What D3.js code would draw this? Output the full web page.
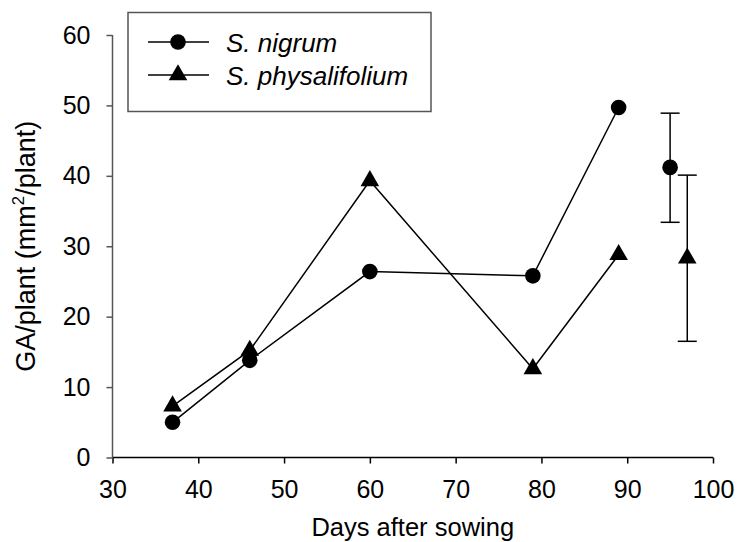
<!DOCTYPE html>
<html>
<head>
<meta charset="utf-8">
<script src="https://cdn.jsdelivr.net/npm/d3@7"></script>
<style>
  html, body { margin: 0; padding: 0; background: #fff; }
  svg { display: block; }
  text { font-family: "Liberation Sans", Arial, sans-serif; fill: #000; }
</style>
</head>
<body>
<svg id="chart" width="737" height="542"></svg>
<script>
// ---- data ----
const days = [37, 46, 60, 79, 89];
const nigrum = [5.0, 13.8, 26.4, 25.8, 49.7];
const physalifolium = [7.3, 15.2, 39.3, 12.6, 28.8];
// overall means with error bars
const meanDays = [95, 97];
const meanValues = [41.2, 28.3];
const meanLow = [33.4, 16.5];
const meanHigh = [48.9, 40.1];
const seriesNames = ["S. nigrum", "S. physalifolium"];
const xTicks = [30, 40, 50, 60, 70, 80, 90, 100];
const yTicks = [0, 10, 20, 30, 40, 50, 60];
const xTitle = "Days after sowing";

const svg = d3.select("#chart");
const x = d3.scaleLinear().domain([30, 100]).range([112.5, 713]);
const y = d3.scaleLinear().domain([0, 60]).range([457.5, 35]);

const FS = 25;

// axes
const xAxis = svg.append("g").attr("transform", `translate(0,${y(0)})`)
  .call(d3.axisBottom(x).tickValues(xTicks).tickSize(6).tickSizeOuter(0).tickPadding(17));
xAxis.select(".domain").attr("stroke", "#000").attr("stroke-width", 1.5)
  .attr("d", `M${x(30)},0H${x(100)}`);
xAxis.selectAll(".tick line").attr("stroke", "#000").attr("stroke-width", 1.5);
xAxis.selectAll(".tick text").attr("font-size", FS).attr("font-family", "Liberation Sans, Arial, sans-serif").attr("fill", "#000");

const yAxis = svg.append("g").attr("transform", `translate(${x(30)},0)`)
  .call(d3.axisLeft(y).tickValues(yTicks).tickSize(6).tickSizeOuter(0).tickPadding(16));
yAxis.select(".domain").attr("stroke", "#555").attr("stroke-width", 1.5)
  .attr("d", `M0,${y(0)}V${y(60)}`);
yAxis.selectAll(".tick line").attr("stroke", "#555").attr("stroke-width", 1.5);
yAxis.selectAll(".tick text").attr("font-size", FS).attr("font-family", "Liberation Sans, Arial, sans-serif").attr("fill", "#000");

// axis titles
svg.append("text").attr("x", (x(30) + x(100)) / 2).attr("y", 536)
  .attr("text-anchor", "middle").attr("font-size", 25.5).text(xTitle);

const YFS = 27;
const yt = svg.append("text")
  .attr("transform", `translate(35,${(y(0) + y(60)) / 2}) rotate(-90)`)
  .attr("text-anchor", "middle").attr("font-size", YFS);
yt.append("tspan").text("GA/plant (mm");
yt.append("tspan").attr("font-size", YFS * 0.62).attr("dy", -11).text("2");
yt.append("tspan").attr("dy", 11).text("/plant)");

// markers
const triangle = d3.symbol().type(d3.symbolTriangle).size(150);
function drawCircle(g, cx, cy) {
  g.append("circle").attr("cx", cx).attr("cy", cy).attr("r", 7.8).attr("fill", "#000");
}
function drawTriangle(g, cx, cy) {
  g.append("path").attr("d", triangle).attr("transform", `translate(${cx},${cy})`).attr("fill", "#000");
}

const line = d3.line().x(d => x(d[0])).y(d => y(d[1]));
const plot = svg.append("g");

plot.append("path").datum(days.map((d, i) => [d, nigrum[i]]))
  .attr("d", line).attr("fill", "none").attr("stroke", "#000").attr("stroke-width", 1.5);
plot.append("path").datum(days.map((d, i) => [d, physalifolium[i]]))
  .attr("d", line).attr("fill", "none").attr("stroke", "#000").attr("stroke-width", 1.5);

// error bars
meanDays.forEach((d, i) => {
  const cx = x(d);
  plot.append("line").attr("x1", cx).attr("x2", cx).attr("y1", y(meanLow[i])).attr("y2", y(meanHigh[i]))
    .attr("stroke", "#000").attr("stroke-width", 1.5);
  [meanLow[i], meanHigh[i]].forEach(v => {
    plot.append("line").attr("x1", cx - 9.5).attr("x2", cx + 9.5).attr("y1", y(v)).attr("y2", y(v))
      .attr("stroke", "#000").attr("stroke-width", 1.5);
  });
});

days.forEach((d, i) => drawCircle(plot, x(d), y(nigrum[i])));
days.forEach((d, i) => drawTriangle(plot, x(d), y(physalifolium[i])));
drawCircle(plot, x(meanDays[0]), y(meanValues[0]));
drawTriangle(plot, x(meanDays[1]), y(meanValues[1]));

// legend
const lg = svg.append("g");
lg.append("rect").attr("x", 128).attr("y", 12.5).attr("width", 303).attr("height", 99)
  .attr("fill", "#fff").attr("stroke", "#555").attr("stroke-width", 1.5);
const rowsY = [42, 75];
seriesNames.forEach((name, i) => {
  lg.append("line").attr("x1", 148).attr("x2", 209).attr("y1", rowsY[i]).attr("y2", rowsY[i])
    .attr("stroke", "#000").attr("stroke-width", 1.5);
  if (i === 0) drawCircle(lg, 178, rowsY[i]); else drawTriangle(lg, 178, rowsY[i]);
  lg.append("text").attr("x", 226).attr("y", rowsY[i] + 9.5)
    .attr("font-size", 26).attr("font-style", "italic").text(name);
});
</script>
</body>
</html>
